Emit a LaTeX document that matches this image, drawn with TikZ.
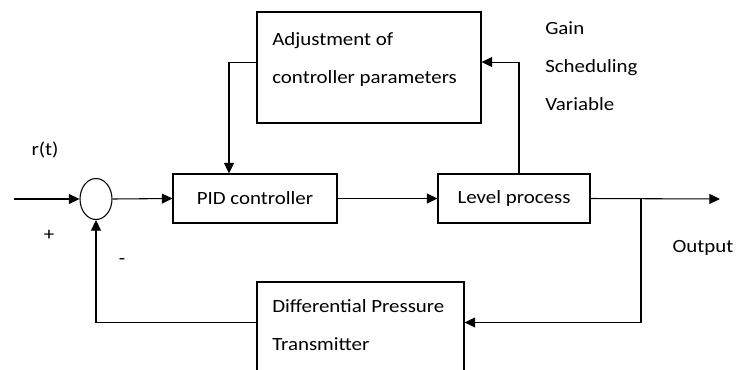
\documentclass[tikz,border=0pt]{standalone}
\usepackage{fontspec}
\setmainfont{Carlito}[FakeStretch=1.12]
\usetikzlibrary{arrows.meta,shapes.geometric}

\begin{document}
\begin{tikzpicture}[x=0.75pt, y=-0.75pt,
            every node/.style={font=\fontsize{14}{28.5}\selectfont},
            blk/.style={draw, line width=0.8pt, inner sep=0pt},
            lbl/.style={inner sep=0pt, align=left, anchor=base west},
            sig/.style={line width=0.8pt, -{Triangle[length=8pt,width=7.5pt]}}]
            \useasboundingbox (0,0) rectangle (736,369);
            \clip (0,0) rectangle (736,369);

            \node[blk, ellipse, minimum width=24pt, minimum height=30.75pt] (sum) at (96,199) {};
            \node[blk, minimum width=123pt, minimum height=36.75pt] (pid) at (255,198.5) {PID controller};
            \node[blk, minimum width=114pt, minimum height=36.75pt] (lev) at (514,198.5) {Level process};
            \node[blk, minimum width=168pt, minimum height=83.25pt] (adj) at (369,67.5) {};
            \node[blk, minimum width=155.25pt, minimum height=73.5pt] (dpt) at (360.5,331) {};

            \node[lbl] (adjtxt) at (272,83) {Adjustment of\\controller parameters};
            \node[lbl] (dpttxt) at (272,350) {Differential Pressure\\Transmitter};
            \node[lbl] (gsv) at (545,110) {Gain\\Scheduling\\Variable};
            \node (ref) at (45,150) {r(t)};
            \node (plus) at (49,235) {+};
            \node (minus) at (122,262) {-};
            \node (outlbl) at (703,248) {Output};

            \coordinate (in) at (14,199);
            \coordinate (out) at (720,199);
            \coordinate (tap) at (641,199);

            \draw[sig] (in) -- (sum.west);
            \draw[sig] (sum.east) -- (pid.west);
            \draw[sig] (pid.east) -- (lev.west);
            \draw[sig] (lev.east) -- (out);
            \draw[sig] (tap) |- ([yshift=6.4pt]dpt.east);
            \draw[sig] ([yshift=6.4pt]dpt.west) -| (sum.south);
            \draw[sig] ([xshift=3.75pt]lev.north) |- ([yshift=4.1pt]adj.east);
            \draw[sig] ([yshift=4.1pt]adj.west) -| ([xshift=-19.5pt]pid.north);
\end{tikzpicture}
\end{document}
